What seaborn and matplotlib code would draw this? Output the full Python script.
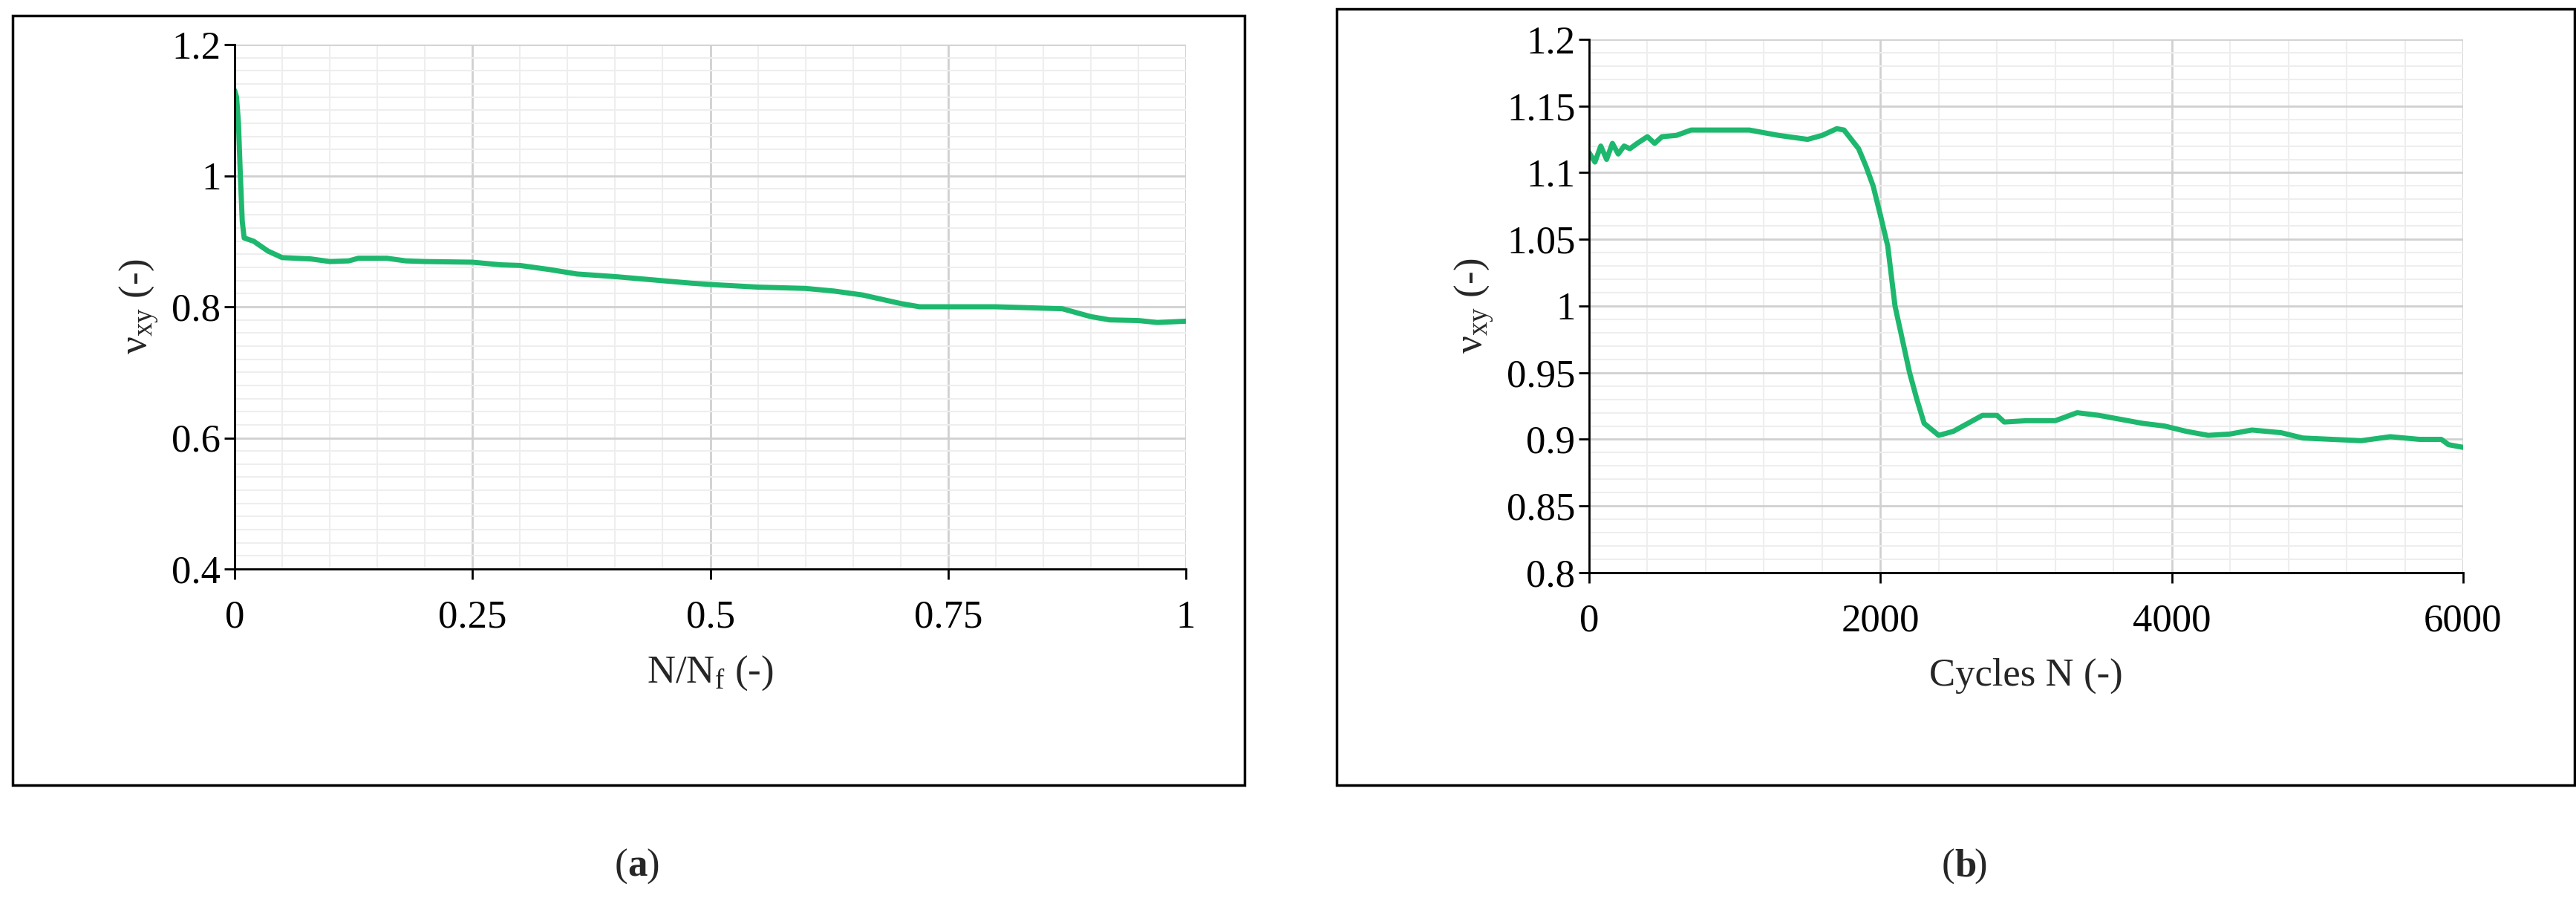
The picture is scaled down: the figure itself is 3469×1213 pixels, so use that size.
import matplotlib
matplotlib.use("Agg")
import matplotlib.pyplot as plt
from matplotlib.patches import Rectangle
from matplotlib.ticker import MultipleLocator
import seaborn as sns
import pandas as pd

# panel (a): normalised life
nnf = [0.0, 0.002, 0.004, 0.006, 0.008, 0.01, 0.02, 0.035, 0.05, 0.08, 0.1, 0.12, 0.13, 0.16, 0.18, 0.2,
       0.25, 0.28, 0.3, 0.33, 0.36, 0.4, 0.44, 0.48, 0.5, 0.55, 0.6, 0.63, 0.66, 0.7, 0.72,
       0.8, 0.87, 0.9, 0.92, 0.95, 0.97, 1.0]
nu_a = [1.13, 1.12, 1.08, 1.0, 0.93, 0.905, 0.9, 0.885, 0.875, 0.873, 0.869, 0.87, 0.874, 0.874, 0.87, 0.869,
        0.868, 0.864, 0.863, 0.857, 0.85, 0.846, 0.841, 0.836, 0.834, 0.83, 0.828, 0.824, 0.818, 0.805, 0.8,
        0.8, 0.797, 0.785, 0.78, 0.779, 0.776, 0.778]
yticks_a = [0.4, 0.6, 0.8, 1.0, 1.2]
ylabels_a = ["0.4", "0.6", "0.8", "1", "1.2"]

# panel (b): cycles
cycles = [0, 40, 80, 120, 160, 200, 240, 280, 330, 400, 450, 500, 600, 700, 900, 1100, 1300, 1500, 1600,
          1700, 1750, 1850, 1900, 1950, 2000, 2050, 2100, 2150, 2200, 2250, 2300, 2400, 2500, 2600, 2700,
          2800, 2850, 3000, 3200, 3350, 3500, 3650, 3800, 3950, 4100, 4250, 4400, 4550, 4750, 4900, 5100,
          5300, 5500, 5700, 5850, 5900, 6000]
nu_b = [1.115, 1.108, 1.12, 1.11, 1.122, 1.114, 1.12, 1.118, 1.122, 1.127, 1.122, 1.127, 1.128, 1.132, 1.132,
        1.132, 1.128, 1.125, 1.128, 1.133, 1.132, 1.118, 1.105, 1.09, 1.068, 1.045, 1.0, 0.975, 0.95, 0.93,
        0.912, 0.903, 0.906, 0.912, 0.918, 0.918, 0.913, 0.914, 0.914, 0.92, 0.918, 0.915, 0.912, 0.91,
        0.906, 0.903, 0.904, 0.907, 0.905, 0.901, 0.9, 0.899, 0.902, 0.9, 0.9, 0.896, 0.894]
yticks_b = [0.8, 0.85, 0.9, 0.95, 1.0, 1.05, 1.1, 1.15, 1.2]
ylabels_b = ["0.8", "0.85", "0.9", "0.95", "1", "1.05", "1.1", "1.15", "1.2"]

sns.set_theme(style="white")
plt.rcParams['font.family'] = ['Liberation Serif', 'DejaVu Serif']
green = "#1DB86E"
FS = 38

W, H = 3469, 1213
fig = plt.figure(figsize=(W / 100, H / 100), dpi=100)


def box(x0, y0, x1, y1):
    fig.patches.append(Rectangle((x0 / W, 1 - y1 / H), (x1 - x0) / W, (y1 - y0) / H,
                                 transform=fig.transFigure, fill=False, edgecolor="black", lw=2.5))


def style(ax, xmaj, xmin, ymaj, ymin):
    ax.xaxis.set_major_locator(MultipleLocator(xmaj))
    ax.xaxis.set_minor_locator(MultipleLocator(xmin))
    ax.yaxis.set_major_locator(MultipleLocator(ymaj))
    ax.yaxis.set_minor_locator(MultipleLocator(ymin))
    ax.grid(which="major", color="#d0d0d0", lw=2)
    ax.grid(which="minor", color="#eeeeee", lw=1.5)
    for s in ["top", "right"]:
        ax.spines[s].set_visible(False)
    for s in ["left", "bottom"]:
        ax.spines[s].set_color("black")
        ax.spines[s].set_linewidth(2)
    ax.tick_params(which="major", direction="out", length=10, width=2, labelsize=FS, colors="black",
                   bottom=True, left=True)
    ax.tick_params(axis="x", pad=20)


box(17, 21, 1676, 1057)
ax1 = fig.add_axes([316 / W, 1 - 766 / H, (1597 - 316) / W, (766 - 60) / H])
sns.lineplot(x=nnf, y=nu_a, ax=ax1, color=green, lw=5)
ax1.set_xlim(0, 1)
ax1.set_ylim(0.4, 1.2)
style(ax1, 0.25, 0.05, 0.2, 0.02)
ax1.set_xticks([0, 0.25, 0.5, 0.75, 1])
ax1.set_xticklabels(["0", "0.25", "0.5", "0.75", "1"])
ax1.set_yticks(yticks_a)
ax1.set_yticklabels(ylabels_a)
ax1.set_xlabel(r"N/N$_\mathregular{f}$ (-)", fontsize=FS, labelpad=18)
ax1.set_ylabel(r"ν$_\mathregular{xy}$ (-)", fontsize=FS, labelpad=10)
fig.text(845 / W, 1 - 1167 / H, "(", fontsize=FS, ha="right", va="center")
fig.text(845 / W, 1 - 1167 / H, "a", fontsize=FS, ha="left", va="center", fontweight="bold")
fig.text(870 / W, 1 - 1167 / H, ")", fontsize=FS, ha="left", va="center")

box(1800, 12, 3467, 1057)
ax2 = fig.add_axes([2140 / W, 1 - 771 / H, (3317 - 2140) / W, (771 - 53) / H])
sns.lineplot(x=cycles, y=nu_b, ax=ax2, color=green, lw=5)
ax2.set_xlim(0, 6000)
ax2.set_ylim(0.8, 1.2)
style(ax2, 2000, 400, 0.05, 0.01)
ax2.set_yticks(yticks_b)
ax2.set_yticklabels(ylabels_b)
ax2.set_xlabel("Cycles N (-)", fontsize=FS, labelpad=18)
ax2.set_ylabel(r"ν$_\mathregular{xy}$ (-)", fontsize=FS, labelpad=10)
fig.text(2632 / W, 1 - 1167 / H, "(", fontsize=FS, ha="right", va="center")
fig.text(2632 / W, 1 - 1167 / H, "b", fontsize=FS, ha="left", va="center", fontweight="bold")
fig.text(2658 / W, 1 - 1167 / H, ")", fontsize=FS, ha="left", va="center")

fig.savefig("out.png", dpi=100, facecolor="white")
